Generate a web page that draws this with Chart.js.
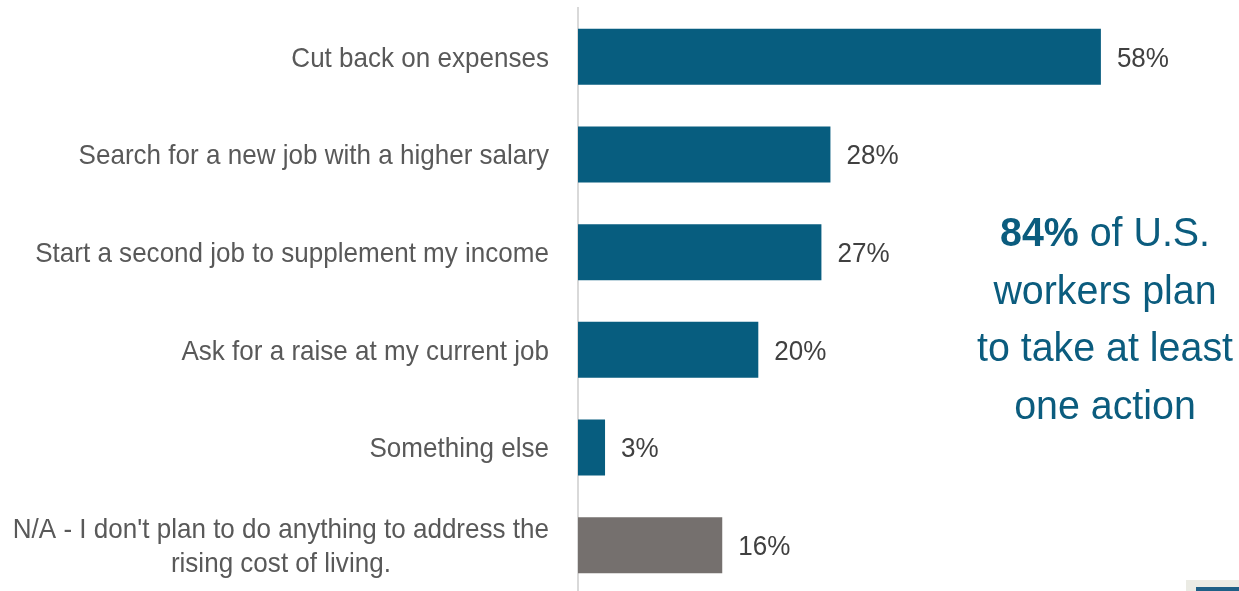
<!DOCTYPE html>
<html>
<head>
<meta charset="utf-8">
<script src="https://cdn.jsdelivr.net/npm/chart.js@4.4.1/dist/chart.umd.min.js"></script>
<style>
  html, body { margin: 0; padding: 0; background: #fff; overflow: hidden; }
  #wrap { position: relative; width: 1239px; height: 600px; }
</style>
</head>
<body>
<div id="wrap"><canvas id="actionsChart"></canvas></div>
<script>
// Planned actions in response to the rising cost of living (share of workers)
const actions = [
  ['Cut back on expenses'],
  ['Search for a new job with a higher salary'],
  ['Start a second job to supplement my income'],
  ['Ask for a raise at my current job'],
  ['Something else'],
  ['N/A - I don\'t plan to do anything to address the', 'rising cost of living.']
];
const shares = [58, 28, 27, 20, 3, 16];
const barColors = ['#075d7f', '#075d7f', '#075d7f', '#075d7f', '#075d7f', '#75706e'];
const calloutLines = [
  [{ text: '84%', bold: true }, { text: ' of U.S.', bold: false }],
  [{ text: 'workers plan', bold: false }],
  [{ text: 'to take at least', bold: false }],
  [{ text: 'one action', bold: false }]
];

const FONT = '"Liberation Sans", Arial, sans-serif';
const NARROW = 0.93; // squeeze the sans to an Arial Narrow-like width

// draw text horizontally condensed; x is the left edge
function fillNarrow(ctx, text, x, y, sx) {
  ctx.save();
  ctx.translate(x, y);
  ctx.scale(sx, 1);
  ctx.fillText(text, 0, 0);
  ctx.restore();
}

// category labels: right aligned, wrapped lines centred on the widest one
const categoryLabels = {
  id: 'categoryLabels',
  afterDraw(chart) {
    const { ctx, scales: { y } } = chart;
    ctx.save();
    ctx.font = '28px ' + FONT;
    ctx.fillStyle = '#595959';
    ctx.textAlign = 'left';
    ctx.textBaseline = 'middle';
    const right = y.right - 29;
    const lineH = 34;
    actions.forEach((lines, i) => {
      const cy = y.getPixelForValue(i) + 2;
      const widths = lines.map(l => ctx.measureText(l).width * NARROW);
      const maxW = Math.max(...widths);
      const cx = right - maxW / 2;
      lines.forEach((l, j) => {
        fillNarrow(ctx, l, cx - widths[j] / 2, cy + (j - (lines.length - 1) / 2) * lineH, NARROW);
      });
    });
    ctx.restore();
  }
};

// value labels at the end of each bar
const valueLabels = {
  id: 'valueLabels',
  afterDatasetsDraw(chart) {
    const { ctx } = chart;
    const meta = chart.getDatasetMeta(0);
    ctx.save();
    ctx.font = '28px ' + FONT;
    ctx.fillStyle = '#404040';
    ctx.textAlign = 'left';
    ctx.textBaseline = 'middle';
    meta.data.forEach((bar, i) => {
      fillNarrow(ctx, shares[i] + '%', bar.x + 16, bar.y + 2, NARROW);
    });
    ctx.restore();
  }
};

// callout text on the right plus the little footer tab
const callout = {
  id: 'callout',
  afterDraw(chart) {
    const { ctx } = chart;
    ctx.save();
    ctx.fillStyle = '#0b5c7e';
    ctx.textBaseline = 'middle';
    ctx.textAlign = 'left';
    const cx = 1105;
    const sx = 0.96;
    calloutLines.forEach((parts, i) => {
      const y = 235 + i * 57.5;
      const fonts = parts.map(p => (p.bold ? 'bold ' : '') + '41px ' + FONT);
      let total = 0;
      parts.forEach((p, k) => { ctx.font = fonts[k]; total += ctx.measureText(p.text).width * sx; });
      let x = cx - total / 2;
      parts.forEach((p, k) => {
        ctx.font = fonts[k];
        fillNarrow(ctx, p.text, x, y, sx);
        x += ctx.measureText(p.text).width * sx;
      });
    });
    ctx.fillStyle = '#ebebe4';
    ctx.fillRect(1186, 580, 53, 11);
    ctx.fillStyle = '#1f5f86';
    ctx.fillRect(1196, 587, 43, 4);
    ctx.restore();
  }
};

new Chart(document.getElementById('actionsChart'), {
  type: 'bar',
  data: {
    labels: actions,
    datasets: [{
      data: shares,
      backgroundColor: barColors,
      borderWidth: 0,
      categoryPercentage: 1,
      barPercentage: 0.574
    }]
  },
  options: {
    indexAxis: 'y',
    responsive: true,
    maintainAspectRatio: false,
    animation: false,
    events: [],
    layout: { padding: { top: 8, bottom: 6, left: 0, right: 75 } },
    plugins: {
      legend: { display: false },
      tooltip: { enabled: false }
    },
    scales: {
      x: {
        min: 0,
        max: 65,
        display: false,
        grid: { display: false }
      },
      y: {
        afterFit(scale) { scale.width = 578; },
        grid: { display: false, drawTicks: false },
        border: { display: true, color: '#d9d9d9', width: 2 },
        ticks: { display: false }
      }
    }
  },
  plugins: [categoryLabels, valueLabels, callout]
});
</script>
</body>
</html>
